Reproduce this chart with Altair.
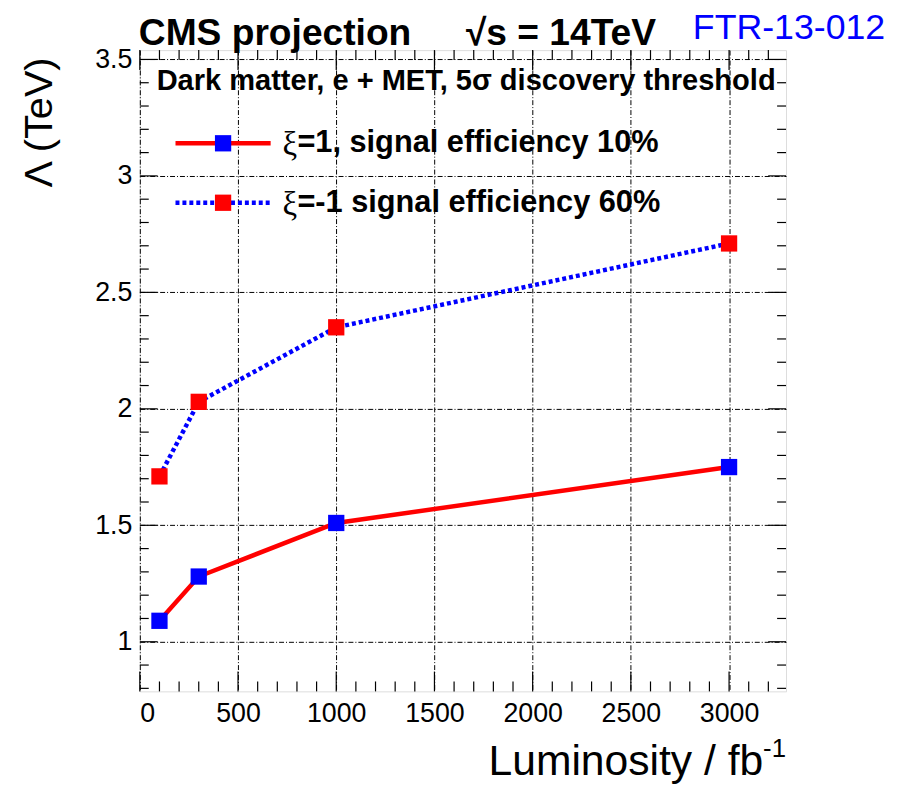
import altair as alt
import pandas as pd

# ---- data ----
lumi = [100, 300, 1000, 3000]
lam_xi_pos = [1.09, 1.28, 1.51, 1.75]   # xi=1, signal efficiency 10% (red solid, blue squares)
lam_xi_neg = [1.71, 2.03, 2.35, 2.71]   # xi=-1 signal efficiency 60% (blue dotted, red squares)
series_labels = ["ξ=1, signal efficiency 10%", "ξ=-1 signal efficiency 60%"]

x_major = [0, 500, 1000, 1500, 2000, 2500, 3000]
x_minor = [100, 200, 300, 400, 600, 700, 800, 900, 1100, 1200, 1300, 1400,
           1600, 1700, 1800, 1900, 2100, 2200, 2300, 2400, 2600, 2700, 2800,
           2900, 3100, 3200]
y_major = [1.0, 1.5, 2.0, 2.5, 3.0, 3.5]
y_minor = [0.8, 0.9, 1.1, 1.2, 1.3, 1.4, 1.6, 1.7, 1.8, 1.9, 2.1, 2.2, 2.3,
           2.4, 2.6, 2.7, 2.8, 2.9, 3.1, 3.2, 3.3, 3.4]

W, H = 652, 647
XDOM = [0, 3290]
YDOM = [0.787, 3.54]
FONT = "Liberation Sans"
SERIF = "Liberation Serif"

xs = alt.Scale(domain=XDOM, nice=False, zero=False)
ys = alt.Scale(domain=YDOM, nice=False, zero=False)

x_axis = alt.Axis(values=x_major, grid=True, gridDash=[5, 2, 1, 2], gridColor="black",
                  gridWidth=1, ticks=False, domain=False, format="d",
                  labelFont=FONT, labelFontSize=27, labelPadding=9, labelColor="black",
                  title=None)
y_axis = alt.Axis(values=y_major, grid=True, gridDash=[5, 2, 1, 2], gridColor="black",
                  gridWidth=1, ticks=False, domain=False, format="~g",
                  labelFont=FONT, labelFontSize=27, labelPadding=8, labelColor="black",
                  title=None)

def X():
    return alt.X("lumi:Q", scale=xs, axis=x_axis)

def Y():
    return alt.Y("lam:Q", scale=ys, axis=y_axis)

df_pos = pd.DataFrame({"lumi": lumi, "lam": lam_xi_pos})
df_neg = pd.DataFrame({"lumi": lumi, "lam": lam_xi_neg})

def xticks(vals, length):
    d = pd.DataFrame({"lumi": vals})
    bot = alt.Chart(d).mark_rule(color="black", strokeWidth=1.2).encode(
        x=X(), y=alt.value(H), y2=alt.value(H - length))
    top = alt.Chart(d).mark_rule(color="black", strokeWidth=1.2).encode(
        x=X(), y=alt.value(0), y2=alt.value(length))
    return bot + top

def yticks(vals, length):
    d = pd.DataFrame({"lam": vals})
    left = alt.Chart(d).mark_rule(color="black", strokeWidth=1.2).encode(
        y=Y(), x=alt.value(0), x2=alt.value(length))
    right = alt.Chart(d).mark_rule(color="black", strokeWidth=1.2).encode(
        y=Y(), x=alt.value(W), x2=alt.value(W - length))
    return left + right

ticks = xticks(x_major, 20) + xticks(x_minor, 10) + yticks(y_major, 18) + yticks(y_minor, 9)

line_pos = alt.Chart(df_pos).mark_line(color="#ff0000", strokeWidth=4.5).encode(x=X(), y=Y())
pts_pos = alt.Chart(df_pos).mark_point(shape="square", filled=True, size=270,
                                       color="#0000ff", opacity=1).encode(x=X(), y=Y())
line_neg = alt.Chart(df_neg).mark_line(color="#0000ff", strokeWidth=4.5,
                                       strokeDash=[4, 3]).encode(x=X(), y=Y())
pts_neg = alt.Chart(df_neg).mark_point(shape="square", filled=True, size=270,
                                       color="#ff0000", opacity=1).encode(x=X(), y=Y())

def txt(text, x, y, size, weight="bold", color="black", align="left",
        baseline="middle", angle=0, font=FONT):
    kw = dict(font=font, fontSize=size, fontWeight=weight, color=color,
              align=align, baseline=baseline)
    if angle:
        kw["angle"] = angle
    return alt.Chart(pd.DataFrame({"t": [text]})).mark_text(**kw).encode(
        text="t:N", x=alt.value(x), y=alt.value(y))

def leg_line(y, color, dash):
    kw = dict(color=color, strokeWidth=4.5)
    if dash:
        kw["strokeDash"] = dash
    return alt.Chart(pd.DataFrame({"a": [0]})).mark_rule(**kw).encode(
        x=alt.value(36), x2=alt.value(132), y=alt.value(y))

def leg_sq(y, color):
    return alt.Chart(pd.DataFrame({"a": [0]})).mark_point(
        shape="square", filled=True, size=270, color=color, opacity=1).encode(
        x=alt.value(84), y=alt.value(y))

def leg_text(label, y):
    # Greek symbol in a serif face (as in ROOT's Symbol font), the rest bold sans
    return (txt(label[0], 144, y + 2, 33, weight="normal", font=SERIF) +
            txt(label[1:], 159, y, 31))

legend = (leg_line(94, "#ff0000", None) + leg_sq(94, "#0000ff") +
          leg_text(series_labels[0], 94) +
          leg_line(154, "#0000ff", [4, 3]) + leg_sq(154, "#ff0000") +
          leg_text(series_labels[1], 154))

annotations = (
    txt("CMS projection", -1, -5, 37.5, baseline="alphabetic") +
    txt("√s = 14TeV", 329, -5, 37.5, baseline="alphabetic") +
    txt("FTR-13-012", 558, -11, 36, weight="normal", color="#0000ff",
        baseline="alphabetic") +
    txt("Dark matter, e + MET, 5σ discovery threshold", 17, 31, 29.3) +
    txt("Λ (TeV)", -101, 73, 40, weight="normal", align="center", angle=270) +
    txt("Luminosity / fb", 629, 731, 43, weight="normal", align="right",
        baseline="alphabetic") +
    txt("-1", 652, 713, 26, weight="normal", align="right", baseline="alphabetic")
)

chart = alt.layer(
    ticks, line_neg, line_pos, pts_neg, pts_pos, legend, annotations
).properties(
    width=W, height=H,
    autosize=alt.AutoSizeParams(type="none"),
    padding={"left": 133, "top": 39, "right": 116, "bottom": 95},
).configure_view(stroke="black", strokeWidth=2).configure(background="white")

chart.save("out.html", embed_options={"renderer": "svg", "actions": False})
